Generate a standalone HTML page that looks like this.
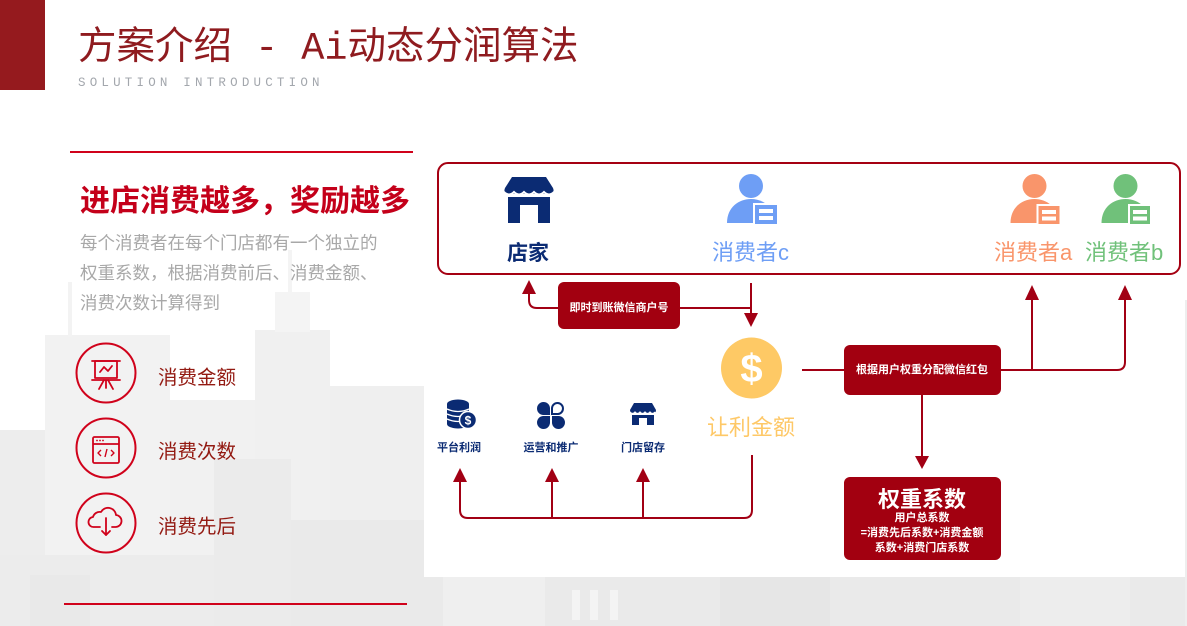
<!DOCTYPE html>
<html><head><meta charset="utf-8"><style>
html,body{margin:0;padding:0;background:#fff;}
svg{display:block;}
text{font-family:"Liberation Sans","Noto Sans CJK SC",sans-serif;}
</style></head><body>
<svg width="1187" height="626" viewBox="0 0 1187 626" xmlns="http://www.w3.org/2000/svg">
<rect x="0" y="0" width="1187" height="626" fill="#ffffff"/>
<!-- skyline -->
<g>
<rect x="0" y="430" width="45" height="196" fill="#ededed"/>
<rect x="45" y="335" width="125" height="291" fill="#f2f2f2"/>
<rect x="68" y="282" width="4" height="55" fill="#f3f3f3"/>
<rect x="170" y="400" width="90" height="226" fill="#f1f1f1"/>
<rect x="255" y="330" width="75" height="296" fill="#f0f0f0"/>
<rect x="275" y="292" width="35" height="40" fill="#f4f4f4"/>
<rect x="288" y="250" width="4" height="44" fill="#f4f4f4"/>
<rect x="214" y="459" width="77" height="167" fill="#ebebeb"/>
<rect x="330" y="386" width="94" height="240" fill="#efefef"/>
<rect x="0" y="555" width="214" height="71" fill="#ececec"/>
<rect x="30" y="575" width="60" height="51" fill="#e9e9e9"/>
<rect x="291" y="520" width="133" height="106" fill="#eaeaea"/>
<rect x="424" y="577" width="763" height="49" fill="#eaeaea"/>
<rect x="443" y="577" width="102" height="49" fill="#efefef"/>
<rect x="572" y="590" width="8" height="30" fill="#f4f4f4"/>
<rect x="590" y="590" width="8" height="30" fill="#f4f4f4"/>
<rect x="610" y="590" width="8" height="30" fill="#f4f4f4"/>
<rect x="720" y="577" width="110" height="49" fill="#e6e6e6"/>
<rect x="1020" y="577" width="110" height="49" fill="#ededed"/>
<rect x="1185" y="300" width="2" height="326" fill="#eeeeee"/>
</g>
<!-- white panel -->
<rect x="424" y="0" width="761" height="577" fill="#ffffff"/>

<!-- header -->
<rect x="0" y="0" width="45" height="90" fill="#951a1e"/>
<text x="78" y="59" font-size="38.5" fill="#8f1b1f" style="font-family:'Liberation Mono','Noto Sans CJK SC',monospace">方案介绍 - Ai动态分润算法</text>
<text x="78" y="86" font-size="12.5" fill="#a3a7ad" letter-spacing="4.2" style="font-family:'Liberation Mono',monospace">SOLUTION INTRODUCTION</text>

<!-- left section -->
<rect x="70" y="151" width="343" height="2" fill="#d0021b"/>
<text x="80" y="211" font-size="30" font-weight="bold" fill="#c4001a">进店消费越多，奖励越多</text>
<text x="80" y="249" font-size="17.5" fill="#a8a8a8">每个消费者在每个门店都有一个独立的</text>
<text x="80" y="279" font-size="17.5" fill="#a8a8a8">权重系数，根据消费前后、消费金额、</text>
<text x="80" y="309" font-size="17.5" fill="#a8a8a8">消费次数计算得到</text>

<g fill="none" stroke="#d0021b" stroke-width="2">
<circle cx="106" cy="373" r="29.5"/>
<circle cx="106" cy="448" r="29.5"/>
<circle cx="106" cy="523" r="29.5"/>
</g>
<!-- presentation icon -->
<g fill="none" stroke="#d0021b" stroke-width="1.8" stroke-linecap="round" stroke-linejoin="round">
<line x1="92" y1="361" x2="120" y2="361"/>
<rect x="95" y="361" width="22" height="17"/>
<line x1="92" y1="380" x2="120" y2="380"/>
<path d="M100,372 L104,367 L108,371 L112,366"/>
<line x1="104" y1="380" x2="99" y2="389"/>
<line x1="108" y1="380" x2="113" y2="389"/>
<line x1="106" y1="380" x2="106" y2="388"/>
</g>
<!-- browser icon -->
<g fill="none" stroke="#d0021b" stroke-width="1.8" stroke-linejoin="round">
<rect x="93" y="437" width="26" height="26" rx="1.5"/>
<line x1="93" y1="444" x2="119" y2="444"/>
<path d="M101,450 L98,453 L101,456 M111,450 L114,453 L111,456 M107,449 L105,457" stroke-width="1.4"/>
</g>
<g fill="#d0021b"><circle cx="97" cy="440.5" r="0.9"/><circle cx="100" cy="440.5" r="0.9"/><circle cx="103" cy="440.5" r="0.9"/></g>
<!-- cloud icon -->
<g fill="none" stroke="#d0021b" stroke-width="1.8" stroke-linecap="round" stroke-linejoin="round">
<path d="M100,527 H94 A5,5 0 0 1 93,517 A7,7 0 0 1 101,512 A8,8 0 0 1 116,515 A6,6 0 0 1 115,527 H112"/>
<line x1="106" y1="518" x2="106" y2="535"/>
<path d="M102,531 L106,535 L110,531"/>
</g>
<text x="158" y="384" font-size="19.5" fill="#931a12">消费金额</text>
<text x="158" y="458" font-size="19.5" fill="#931a12">消费次数</text>
<text x="158" y="533" font-size="19.5" fill="#931a12">消费先后</text>
<rect x="64" y="603" width="343" height="2" fill="#d0021b"/>

<!-- diagram top box -->
<rect x="438" y="163" width="742" height="111" rx="10" fill="none" stroke="#a50012" stroke-width="2"/>

<!-- shop big -->
<g fill="#0b2b73">
<path d="M512,177 H546 L553,188 Q555,193 550,194 H508 Q503,193 505,188 Z"/>
<rect x="508" y="197" width="12" height="26"/>
<rect x="538" y="197" width="12" height="26"/>
<rect x="508" y="197" width="42" height="8"/>
</g>
<path d="M504,192 Q509,197 514,192 Q519,197 524,192 Q529,197 534,192 Q539,197 544,192 Q549,197 554,192" fill="none" stroke="#fff" stroke-width="2"/>
<text x="528" y="260" font-size="21" font-weight="bold" fill="#0b2b73" text-anchor="middle">店家</text>

<!-- person icons -->
<defs>
<g id="p">
<circle cx="0" cy="186" r="12"/>
<path d="M-24,223 C-24,207 -12,199 0,199 C12,199 24,207 24,223 Z"/>
</g>
</defs>
<g fill="#6e9ef5"><use href="#p" x="751"/></g>
<rect x="754" y="204" width="24" height="21" fill="#6e9ef5" stroke="#fff" stroke-width="2"/>
<rect x="759" y="209" width="14" height="4" fill="#fff"/><rect x="759" y="216" width="14" height="4" fill="#fff"/>
<text x="712" y="260" font-size="22" fill="#6e9ef5">消费者c</text>

<g fill="#f9956b"><use href="#p" x="1034.5"/></g>
<rect x="1037.5" y="205" width="23" height="20" fill="#f9956b" stroke="#fff" stroke-width="2"/>
<rect x="1042" y="210" width="14" height="4" fill="#fff"/><rect x="1042" y="216.5" width="14" height="4" fill="#fff"/>
<text x="994" y="260" font-size="22" fill="#f9956b">消费者a</text>

<g fill="#70c17a"><use href="#p" x="1125.5"/></g>
<rect x="1129" y="205" width="22" height="20" fill="#70c17a" stroke="#fff" stroke-width="2"/>
<rect x="1133" y="210" width="14" height="4" fill="#fff"/><rect x="1133" y="216.5" width="14" height="4" fill="#fff"/>
<text x="1085" y="260" font-size="22" fill="#70c17a">消费者b</text>

<!-- connectors -->
<g fill="none" stroke="#a20014" stroke-width="2">
<path d="M558,308 H537 Q529,308 529,300 V292"/>
<path d="M680,308 H751"/>
<path d="M751,283 V315"/>
<path d="M802,370 H844"/>
<path d="M1001,370 H1117 Q1125,370 1125,362 V298"/>
<path d="M1032,370 V298"/>
<path d="M922,395 V458"/>
<path d="M752,455 V510 Q752,518 744,518 H468 Q460,518 460,510 V480"/>
<path d="M552,518 V480"/>
<path d="M643,518 V480"/>
</g>
<g fill="#a20014">
<polygon points="529,280 522,294 536,294"/>
<polygon points="751,327 744,313 758,313"/>
<polygon points="1032,285 1025,300 1039,300"/>
<polygon points="1125,285 1118,300 1132,300"/>
<polygon points="922,469 915,456 929,456"/>
<polygon points="460,468 453,482 467,482"/>
<polygon points="552,468 545,482 559,482"/>
<polygon points="643,468 636,482 650,482"/>
</g>

<!-- boxes -->
<rect x="558" y="282" width="122" height="47" rx="6" fill="#a20010"/>
<text x="619" y="311" font-size="11" font-weight="bold" fill="#fff" text-anchor="middle">即时到账微信商户号</text>
<rect x="844" y="345" width="157" height="50" rx="6" fill="#a20010"/>
<text x="922" y="373" font-size="11" font-weight="bold" fill="#fff" text-anchor="middle">根据用户权重分配微信红包</text>
<rect x="844" y="477" width="157" height="83" rx="6" fill="#a20010"/>
<text x="922" y="507" font-size="22" font-weight="bold" fill="#fff" text-anchor="middle">权重系数</text>
<text x="922" y="521" font-size="11" font-weight="bold" fill="#fff" text-anchor="middle">用户总系数</text>
<text x="922" y="536" font-size="11" font-weight="bold" fill="#fff" text-anchor="middle">=消费先后系数+消费金额</text>
<text x="922" y="551" font-size="11" font-weight="bold" fill="#fff" text-anchor="middle">系数+消费门店系数</text>

<!-- coin -->
<circle cx="751.5" cy="368" r="30.5" fill="#fec965"/>
<text x="751.5" y="382" font-size="40" font-weight="bold" fill="#fff" text-anchor="middle">$</text>
<text x="751" y="435" font-size="22" fill="#fec867" text-anchor="middle">让利金额</text>

<!-- small icons -->
<g fill="#0b2b73">
<ellipse cx="458" cy="404" rx="11" ry="4.5"/>
<rect x="447" y="404" width="22" height="20"/>
<ellipse cx="458" cy="424" rx="11" ry="4.5"/>
</g>
<g stroke="#fff" stroke-width="1.3" fill="none">
<path d="M447,409 Q458,414 469,409"/>
<path d="M447,414 Q458,419 469,414"/>
<path d="M447,419 Q458,424 469,419"/>
</g>
<circle cx="468" cy="420" r="8.5" fill="#0b2b73" stroke="#fff" stroke-width="1.5"/>
<text x="468" y="424.5" font-size="12" font-weight="bold" fill="#fff" text-anchor="middle">$</text>
<g fill="#0b2b73">
<path d="M550,415 H543 A6.5,6.5 0 1 1 550,408 Z"/>
<path d="M550,415 H543 A6.5,6.5 0 1 0 550,422 Z" transform="translate(0,1)"/>
<path d="M552,416 H559 A6.5,6.5 0 1 1 552,423 Z"/>
</g>
<path d="M552,414 V408 A5.5,5.5 0 1 1 558,414 Z" fill="none" stroke="#0b2b73" stroke-width="2"/>
<g fill="#0b2b73">
<path d="M634,403 H652 L656,410 Q656,413 653,413 H633 Q630,413 630,410 Z"/>
<rect x="632" y="415" width="22" height="10"/>
</g>
<rect x="639" y="418" width="8" height="7" fill="#fff"/>
<path d="M630,412 Q632.5,415 635,412 Q637.5,415 640,412 Q642.5,415 645,412 Q647.5,415 650,412 Q652.5,415 655,412" fill="none" stroke="#fff" stroke-width="1.2"/>
<text x="459" y="451" font-size="11" font-weight="bold" fill="#0b2b73" text-anchor="middle">平台利润</text>
<text x="551" y="451" font-size="11" font-weight="bold" fill="#0b2b73" text-anchor="middle">运营和推广</text>
<text x="643" y="451" font-size="11" font-weight="bold" fill="#0b2b73" text-anchor="middle">门店留存</text>
</svg>
</body></html>
